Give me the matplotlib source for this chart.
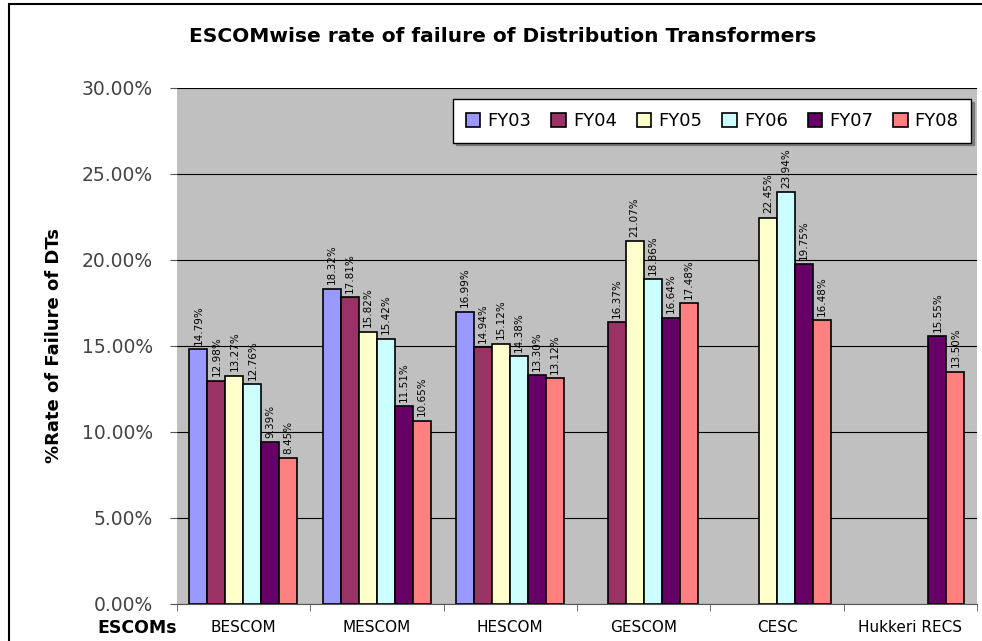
import numpy as np
import matplotlib.pyplot as plt
from matplotlib.patches import Rectangle

# datos
escoms = ["BESCOM", "MESCOM", "HESCOM", "GESCOM", "CESC", "Hukkeri RECS"]
years = ["FY03", "FY04", "FY05", "FY06", "FY07", "FY08"]
fy03 = [14.79, 18.32, 16.99, np.nan, np.nan, np.nan]
fy04 = [12.98, 17.81, 14.94, 16.37, np.nan, np.nan]
fy05 = [13.27, 15.82, 15.12, 21.07, 22.45, np.nan]
fy06 = [12.76, 15.42, 14.38, 18.86, 23.94, np.nan]
fy07 = [9.39, 11.51, 13.30, 16.64, 19.75, 15.55]
fy08 = [8.45, 10.65, 13.12, 17.48, 16.48, 13.50]
yticks = [0, 5, 10, 15, 20, 25, 30]

series = [fy03, fy04, fy05, fy06, fy07, fy08]
colores = ["#9999FF", "#993366", "#FFFFCC", "#CCFFFF", "#660066", "#FF8080"]

fig = plt.figure(figsize=(9.82, 6.41), dpi=100)
fig.patch.set_facecolor("white")

# marco exterior
fig.patches.append(Rectangle((0.009, -0.1), 1.2, 1.094, transform=fig.transFigure,
                             fill=False, edgecolor="black", linewidth=1.5))

ax = fig.add_axes([0.180, 0.058, 0.815, 0.805])
ax.set_facecolor("#C0C0C0")

x = np.arange(len(escoms))
w = 0.135
for i, (vals, c) in enumerate(zip(series, colores)):
    pos = x + (i - 2.5) * w
    ax.bar(pos, vals, w, color=c, edgecolor="black", linewidth=1.2, label=years[i], zorder=3)
    for p, v in zip(pos, vals):
        if not np.isnan(v):
            ax.text(p, v + 0.25, "%.2f%%" % v, rotation=90, ha="center", va="bottom",
                    fontsize=7.5, color="black", zorder=4)

ax.set_xlim(-0.5, len(escoms) - 0.5)
ax.set_ylim(0, 30)
ax.set_yticks(yticks)
ax.set_yticklabels(["%.2f%%" % t for t in yticks], fontsize=13.5, color="#444444")
ax.yaxis.grid(True, color="black", linewidth=0.8, zorder=0)
ax.set_xticks(x)
ax.set_xticklabels(escoms, fontsize=11)
ax.set_xticks(np.arange(len(escoms) + 1) - 0.5, minor=True)
ax.tick_params(axis="x", which="major", length=0, pad=12)
ax.tick_params(axis="x", which="minor", length=5, color="#555555")
ax.tick_params(axis="y", length=5, color="#555555", pad=12)
for s in ["top", "right", "left"]:
    ax.spines[s].set_visible(False)
ax.spines["bottom"].set_color("#555555")

ax.set_ylabel("%Rate of Failure of DTs", fontsize=13, fontweight="bold", labelpad=14)
fig.text(0.099, 0.012, "ESCOMs", fontsize=12.5, fontweight="bold")
fig.text(0.512, 0.935, "ESCOMwise rate of failure of Distribution Transformers",
         ha="center", fontsize=14.5, fontweight="bold")

leg = ax.legend(ncol=6, loc="upper right", bbox_to_anchor=(1.004, 0.995), fontsize=13,
                frameon=True, fancybox=False, shadow=True, handlelength=0.8,
                handleheight=0.8, columnspacing=1.1, handletextpad=0.4, borderpad=0.7)
leg.get_frame().set_edgecolor("black")
leg.get_frame().set_facecolor("white")

fig.savefig("out.png", dpi=100)
